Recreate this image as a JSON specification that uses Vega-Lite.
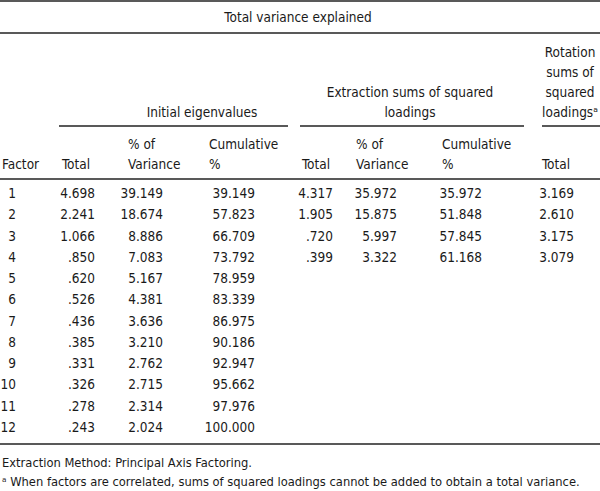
{
  "$schema": "https://vega.github.io/schema/vega-lite/v6.json",
  "width": 600,
  "height": 491,
  "autosize": "none",
  "padding": 0,
  "background": "white",
  "config": {"view": {"stroke": null}},
  "datasets": {
    "cells": [
      {"r":1,"c":0,"v":"1"},{"r":1,"c":1,"v":"4.698"},{"r":1,"c":2,"v":"39.149"},{"r":1,"c":3,"v":"39.149"},{"r":1,"c":4,"v":"4.317"},{"r":1,"c":5,"v":"35.972"},{"r":1,"c":6,"v":"35.972"},{"r":1,"c":7,"v":"3.169"},
      {"r":2,"c":0,"v":"2"},{"r":2,"c":1,"v":"2.241"},{"r":2,"c":2,"v":"18.674"},{"r":2,"c":3,"v":"57.823"},{"r":2,"c":4,"v":"1.905"},{"r":2,"c":5,"v":"15.875"},{"r":2,"c":6,"v":"51.848"},{"r":2,"c":7,"v":"2.610"},
      {"r":3,"c":0,"v":"3"},{"r":3,"c":1,"v":"1.066"},{"r":3,"c":2,"v":"8.886"},{"r":3,"c":3,"v":"66.709"},{"r":3,"c":4,"v":".720"},{"r":3,"c":5,"v":"5.997"},{"r":3,"c":6,"v":"57.845"},{"r":3,"c":7,"v":"3.175"},
      {"r":4,"c":0,"v":"4"},{"r":4,"c":1,"v":".850"},{"r":4,"c":2,"v":"7.083"},{"r":4,"c":3,"v":"73.792"},{"r":4,"c":4,"v":".399"},{"r":4,"c":5,"v":"3.322"},{"r":4,"c":6,"v":"61.168"},{"r":4,"c":7,"v":"3.079"},
      {"r":5,"c":0,"v":"5"},{"r":5,"c":1,"v":".620"},{"r":5,"c":2,"v":"5.167"},{"r":5,"c":3,"v":"78.959"},
      {"r":6,"c":0,"v":"6"},{"r":6,"c":1,"v":".526"},{"r":6,"c":2,"v":"4.381"},{"r":6,"c":3,"v":"83.339"},
      {"r":7,"c":0,"v":"7"},{"r":7,"c":1,"v":".436"},{"r":7,"c":2,"v":"3.636"},{"r":7,"c":3,"v":"86.975"},
      {"r":8,"c":0,"v":"8"},{"r":8,"c":1,"v":".385"},{"r":8,"c":2,"v":"3.210"},{"r":8,"c":3,"v":"90.186"},
      {"r":9,"c":0,"v":"9"},{"r":9,"c":1,"v":".331"},{"r":9,"c":2,"v":"2.762"},{"r":9,"c":3,"v":"92.947"},
      {"r":10,"c":0,"v":"10"},{"r":10,"c":1,"v":".326"},{"r":10,"c":2,"v":"2.715"},{"r":10,"c":3,"v":"95.662"},
      {"r":11,"c":0,"v":"11"},{"r":11,"c":1,"v":".278"},{"r":11,"c":2,"v":"2.314"},{"r":11,"c":3,"v":"97.976"},
      {"r":12,"c":0,"v":"12"},{"r":12,"c":1,"v":".243"},{"r":12,"c":2,"v":"2.024"},{"r":12,"c":3,"v":"100.000"}
    ],
    "headLeft": [
      {"c":0,"l":6,"t":"Factor"},
      {"c":1,"l":6,"t":"Total"},
      {"c":2,"l":5,"t":"% of"},{"c":2,"l":6,"t":"Variance"},
      {"c":3,"l":5,"t":"Cumulative"},{"c":3,"l":6,"t":"%"},
      {"c":4,"l":6,"t":"Total"},
      {"c":5,"l":5,"t":"% of"},{"c":5,"l":6,"t":"Variance"},
      {"c":6,"l":5,"t":"Cumulative"},{"c":6,"l":6,"t":"%"},
      {"c":7,"l":6,"t":"Total"}
    ],
    "notes": [
      {"l":1,"t":"Extraction Method: Principal Axis Factoring."},
      {"l":2,"t":"ᵃ When factors are correlated, sums of squared loadings cannot be added to obtain a total variance."}
    ],
    "headCenter": [
      {"g":0,"l":0,"t":"Total variance explained"},
      {"g":1,"l":4,"t":"Initial eigenvalues"},
      {"g":2,"l":3,"t":"Extraction sums of squared"},
      {"g":2,"l":4,"t":"loadings"},
      {"g":3,"l":1,"t":"Rotation"},
      {"g":3,"l":2,"t":"sums of"},
      {"g":3,"l":3,"t":"squared"},
      {"g":3,"l":4,"t":"loadingsᵃ"}
    ],
    "rules": [
      {"a":0,"b":6,"lvl":0},
      {"a":0,"b":6,"lvl":1},
      {"a":1,"b":2,"lvl":2},
      {"a":3,"b":4,"lvl":2},
      {"a":5,"b":6,"lvl":2},
      {"a":0,"b":6,"lvl":3},
      {"a":0,"b":6,"lvl":4}
    ]
  },
  "layer": [
    {
      "data": {"name": "rules"},
      "mark": {"type": "rule", "color": "#222222", "strokeWidth": 1.4},
      "encoding": {
        "x": {"field": "a", "type": "quantitative", "axis": null,
              "scale": {"domain": [0,1,2,3,4,5,6], "range": [0,59,288,300,524,542,600], "zero": false, "nice": false}},
        "x2": {"field": "b"},
        "y": {"field": "lvl", "type": "quantitative", "axis": null,
              "scale": {"domain": [0,1,2,3,4], "range": [1,33,126,179,444], "zero": false, "nice": false}}
      }
    },
    {
      "data": {"name": "cells"},
      "mark": {"type": "text", "align": "right", "baseline": "middle", "dy": 1, "font": "DejaVu Sans Condensed, sans-serif", "fontSize": 13.5, "color": "#1a1a1a"},
      "encoding": {
        "x": {"field": "c", "type": "quantitative", "axis": null,
              "scale": {"domain": [0,1,2,3,4,5,6,7], "range": [16,95,163,255,333,397,482,574], "zero": false, "nice": false}},
        "y": {"field": "r", "type": "quantitative", "axis": null,
              "scale": {"domain": [1,12], "range": [193,427], "zero": false, "nice": false}},
        "text": {"field": "v"}
      }
    },
    {
      "data": {"name": "headLeft"},
      "mark": {"type": "text", "align": "left", "baseline": "middle", "dy": 1, "font": "DejaVu Sans Condensed, sans-serif", "fontSize": 13.5, "color": "#1a1a1a"},
      "encoding": {
        "x": {"field": "c", "type": "quantitative", "axis": null,
              "scale": {"domain": [0,1,2,3,4,5,6,7], "range": [2,62,128,209,302,356,442,542], "zero": false, "nice": false}},
        "y": {"field": "l", "type": "quantitative", "axis": null,
              "scale": {"domain": [5,6], "range": [144,164], "zero": false, "nice": false}},
        "text": {"field": "t"}
      }
    },
    {
      "data": {"name": "notes"},
      "mark": {"type": "text", "align": "left", "baseline": "middle", "dy": 1, "font": "DejaVu Sans Condensed, sans-serif", "fontSize": 12.8, "color": "#1a1a1a"},
      "encoding": {
        "x": {"datum": 0, "type": "quantitative", "axis": null,
              "scale": {"domain": [0,1], "range": [2,3], "zero": false, "nice": false}},
        "y": {"field": "l", "type": "quantitative", "axis": null,
              "scale": {"domain": [1,2], "range": [462,481], "zero": false, "nice": false}},
        "text": {"field": "t"}
      }
    },
    {
      "data": {"name": "headCenter"},
      "mark": {"type": "text", "align": "center", "baseline": "middle", "dy": 1, "font": "DejaVu Sans Condensed, sans-serif", "fontSize": 13.5, "color": "#1a1a1a"},
      "encoding": {
        "x": {"field": "g", "type": "quantitative", "axis": null,
              "scale": {"domain": [0,1,2,3], "range": [298,202,410,570], "zero": false, "nice": false}},
        "y": {"field": "l", "type": "quantitative", "axis": null,
              "scale": {"domain": [0,1,4], "range": [17,52,112], "zero": false, "nice": false}},
        "text": {"field": "t"}
      }
    }
  ],
  "resolve": {"scale": {"x": "independent", "y": "independent"}}
}
